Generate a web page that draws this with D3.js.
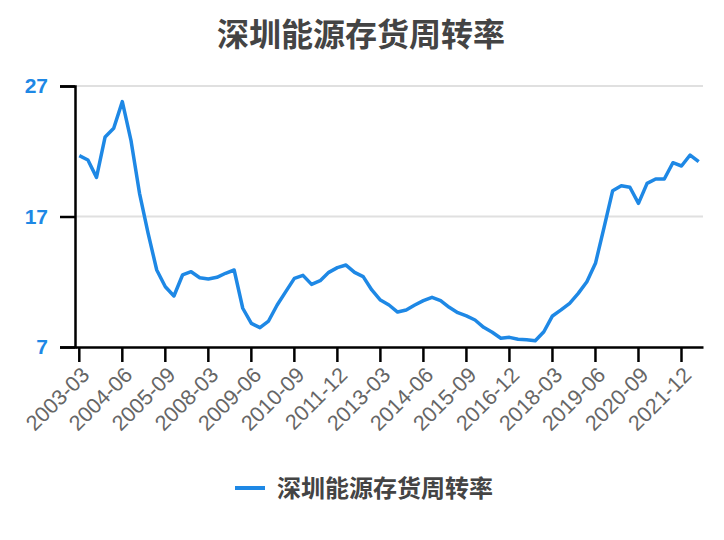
<!DOCTYPE html>
<html>
<head>
<meta charset="utf-8">
<script src="https://cdn.jsdelivr.net/npm/d3@7"></script>
<style>
  html, body { margin: 0; padding: 0; background: #fff; }
  svg { display: block; }
</style>
</head>
<body>
<svg id="chart" width="724" height="540"></svg>
<script>
const title = "深圳能源存货周转率";
const seriesName = "深圳能源存货周转率";
const periods = [
  "2003-03","2003-06","2003-09","2003-12","2004-03","2004-06","2004-09","2004-12",
  "2005-03","2005-06","2005-09","2005-12","2006-06","2006-12","2007-12",
  "2008-03","2008-06","2008-09","2008-12","2009-03","2009-06","2009-09","2009-12",
  "2010-03","2010-06","2010-09","2010-12","2011-03","2011-06","2011-09","2011-12",
  "2012-03","2012-06","2012-09","2012-12","2013-03","2013-06","2013-09","2013-12",
  "2014-03","2014-06","2014-09","2014-12","2015-03","2015-06","2015-09","2015-12",
  "2016-03","2016-06","2016-09","2016-12","2017-03","2017-06","2017-09","2017-12",
  "2018-03","2018-06","2018-09","2018-12","2019-03","2019-06","2019-09","2019-12",
  "2020-03","2020-06","2020-09","2020-12","2021-03","2021-06","2021-09","2021-12",
  "2022-03","2022-06"
];
const turnover = [
  21.66,21.33,20.0,23.1,23.76,25.8,22.86,18.78,15.71,12.9,11.62,10.91,12.52,12.77,12.31,
  12.21,12.34,12.65,12.9,9.97,8.81,8.48,8.99,10.22,11.24,12.26,12.49,11.8,12.08,12.72,
  13.08,13.28,12.72,12.39,11.37,10.6,10.22,9.68,9.84,10.22,10.55,10.81,10.55,10.04,9.63,
  9.38,9.07,8.51,8.13,7.67,7.74,7.59,7.56,7.48,8.17,9.38,9.84,10.35,11.11,12.0,
  13.41,16.17,18.98,19.36,19.24,18.01,19.54,19.87,19.87,21.12,20.87,21.71,21.2
];
const yTicks = [7, 17, 27];
const xTickLabels = ["2003-03","2004-06","2005-09","2008-03","2009-06","2010-09","2011-12",
  "2013-03","2014-06","2015-09","2016-12","2018-03","2019-06","2020-09","2021-12"];

const svg = d3.select("#chart");
const margin = {left: 75, right: 21, top: 86, bottom: 193};
const W = 724, H = 540;
const x = d3.scaleBand().domain(periods).range([margin.left, W - margin.right]).padding(0);
const y = d3.scaleLinear().domain([7, 27]).range([H - margin.bottom, margin.top]);
const blue = "#1e88e5";
const latin = "'Liberation Sans', Arial, sans-serif";
const cjk = "'Noto Sans CJK SC', sans-serif";

// title
svg.append("text").attr("x", 361).attr("y", 46).attr("text-anchor", "middle")
  .attr("font-family", cjk).attr("font-size", 32).attr("font-weight", "bold")
  .attr("fill", "#444").text(title);

// gridlines
svg.append("g").selectAll("line").data(yTicks.filter(d => d !== 7)).join("line")
  .attr("x1", margin.left).attr("x2", W - margin.right)
  .attr("y1", d => y(d)).attr("y2", d => y(d))
  .attr("stroke", "#e0e0e0").attr("stroke-width", 2);

// y axis
const yAxis = svg.append("g").attr("transform", `translate(${margin.left},0)`)
  .call(d3.axisLeft(y).tickValues(yTicks).tickSize(15).tickFormat(d3.format("d")));
yAxis.select(".domain").attr("stroke", "#000").attr("stroke-width", 2.5);
yAxis.selectAll(".tick line").attr("stroke", "#000").attr("stroke-width", 2.5);
yAxis.selectAll(".tick text").attr("font-family", latin).attr("font-size", 21)
  .attr("font-weight", "bold").attr("fill", blue).attr("x", -27);

// x axis
const xAxis = svg.append("g").attr("transform", `translate(0,${y(7)})`)
  .call(d3.axisBottom(x).tickValues(xTickLabels).tickSize(15).tickSizeOuter(0));
xAxis.select(".domain").attr("stroke", "#000").attr("stroke-width", 2.5);
xAxis.selectAll(".tick line").attr("stroke", "#000").attr("stroke-width", 2.5);
xAxis.selectAll(".tick text").attr("font-family", latin).attr("font-size", 21.5)
  .attr("fill", "#666").attr("text-anchor", "end")
  .attr("transform", "translate(6,24) rotate(-45)").attr("dy", "0.35em").attr("y", 0).attr("x", 0);

// line
const line = d3.line().x((d, i) => x(periods[i]) + x.bandwidth() / 2).y(d => y(d));
svg.append("path").datum(turnover).attr("d", line).attr("fill", "none")
  .attr("stroke", blue).attr("stroke-width", 3.5).attr("stroke-linejoin", "round");

// legend
svg.append("line").attr("x1", 235).attr("x2", 265).attr("y1", 488).attr("y2", 488)
  .attr("stroke", blue).attr("stroke-width", 4);
svg.append("text").attr("x", 277).attr("y", 497).attr("font-family", cjk)
  .attr("font-size", 24).attr("font-weight", "bold").attr("fill", "#444").text(seriesName);
</script>
</body>
</html>
